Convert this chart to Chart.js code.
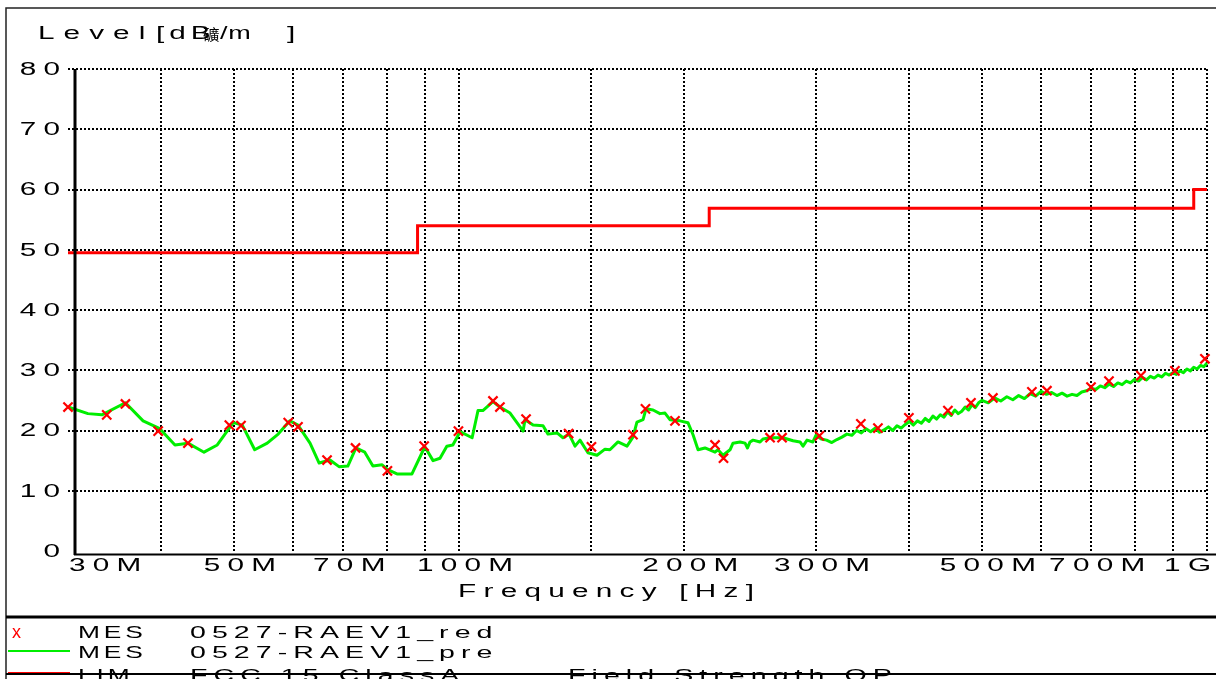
<!DOCTYPE html>
<html>
<head>
<meta charset="utf-8">
<script src="https://cdn.jsdelivr.net/npm/chart.js@4.4.1/dist/chart.umd.min.js"></script>
<style>
  html, body { margin: 0; padding: 0; background: #fff; overflow: hidden; }
  #wrap { width: 1216px; height: 679px; position: relative; }
</style>
</head>
<body>
<div id="wrap"><canvas id="c" width="1216" height="679"></canvas></div>
<script>
// Pre-scan trace (MHz, dBuV/m)
const preFreq = [
  30.0, 31.9, 33.3, 35.8, 37.8, 39.8, 41.7, 43.4, 45.6, 47.5,
  49.9, 51.3, 53.3, 55.4, 57.3, 59.4, 60.9, 63.2, 65.0, 67.2,
  69.1, 71.0, 72.8, 74.8, 76.7, 78.9, 80.3, 82.6, 86.5, 90.0,
  92.3, 94.3, 96.3, 98.1, 100.3, 104.1, 106.0, 107.6, 111.0, 113.4,
  117.0, 121.8, 122.5, 125.6, 129.5, 131.5, 135.2, 137.7, 140.3, 142.9,
  145.1, 148.7, 152.9, 156.7, 159.1, 163.1, 167.7, 170.8, 172.9, 176.2,
  177.8, 181.7, 185.6, 188.5, 191.4, 197.4, 202.3, 205.5, 208.7, 213.2,
  219.9, 221.9, 225.4, 230.3, 232.4, 237.5, 241.2, 243.0, 244.9, 247.2,
  252.6, 254.9, 260.5, 271.1, 279.6, 285.7, 288.3, 291.9, 297.2,
  300, 305, 310, 315, 320, 325, 330, 335, 340, 345,
  350, 355, 360, 365, 370, 375, 380, 385, 390, 395,
  400, 405, 410, 415, 420, 425, 430, 435, 440, 445,
  450, 455, 460, 465, 470, 475, 480, 485, 490, 495,
  500, 510, 520, 530, 540, 550, 560, 570, 580, 590,
  600, 610, 620, 630, 640, 650, 660, 670, 680, 690,
  700, 710, 720, 730, 740, 750, 760, 770, 780, 790,
  800, 810, 820, 830, 840, 850, 860, 870, 880, 890,
  900, 910, 920, 930, 940, 950, 960, 970, 980, 990, 1000
];
const preLevel = [
  23.9, 22.8, 22.6, 24.6, 21.6, 20.3, 17.6, 17.9, 16.4, 17.6,
  21.3, 20.9, 16.8, 17.9, 19.4, 21.6, 20.9, 17.9, 14.6, 15.1,
  14.0, 14.1, 17.1, 16.4, 14.1, 14.3, 13.5, 12.8, 12.8, 17.3,
  15.0, 15.4, 17.4, 17.6, 19.8, 18.8, 23.3, 23.3, 24.8, 23.9,
  22.9, 19.9, 21.8, 20.9, 20.8, 19.4, 19.6, 18.8, 19.4, 17.4,
  18.4, 16.3, 15.9, 16.9, 16.8, 18.1, 17.4, 18.9, 21.4, 21.8,
  23.6, 23.4, 22.8, 22.9, 21.8, 21.6, 21.3, 19.3, 16.8, 17.1,
  16.4, 16.8, 15.9, 16.8, 17.9, 18.1, 17.9, 17.1, 18.1, 18.4,
  18.1, 18.6, 18.8, 18.8, 18.3, 18.1, 17.4, 18.4, 18.1,
  19.2, 18.6, 18.4, 18.0, 18.5, 18.9, 19.4, 19.2, 20.0, 19.6,
  20.3, 19.8, 20.4, 19.7, 20.1, 20.6, 20.0, 20.8, 20.4, 21.0,
  21.5, 20.9, 21.6, 21.2, 22.0, 21.5, 22.4, 21.9, 22.6, 22.2,
  23.1, 22.5, 23.4, 22.8, 23.2, 23.9, 23.4, 24.3, 23.8, 24.6,
  25.0, 24.6, 25.4, 24.9, 25.6, 25.1, 25.8, 25.3, 26.1, 25.7,
  26.5, 26.0, 26.3, 25.8, 26.2, 25.7, 26.0, 25.8, 26.4, 26.6,
  27.0, 26.8, 27.4, 27.1, 27.7, 27.3, 27.9, 27.6, 28.2, 27.9,
  28.5, 28.2, 28.8, 28.4, 29.0, 28.7, 29.2, 28.9, 29.5, 29.2,
  29.6, 29.3, 29.9, 29.6, 30.2, 29.9, 30.5, 30.2, 30.8, 30.6, 31.2
];

// Final measurement points
const markFreq = [
  30.0, 33.8, 35.8, 39.6, 43.4, 49.3, 51.1, 59.1, 60.9, 66.6,
  72.7, 80.2, 89.8, 99.8, 111.0, 113.4, 122.9, 140.1, 150.3, 170.8,
  177.5, 194.4, 219.9, 225.7, 260.5, 270.3, 303.2, 344.5, 363.1, 399.4,
  450.4, 483.5, 517.3, 583.3, 610.9, 699.7, 739.5, 815.9, 905.9, 993.6
];
const markLevel = [
  23.9, 22.6, 24.4, 19.9, 17.9, 20.9, 20.8, 21.3, 20.6, 15.1,
  17.1, 13.3, 17.4, 19.9, 24.9, 23.9, 21.9, 19.5, 17.3, 19.3,
  23.6, 21.6, 17.6, 15.4, 18.8, 18.8, 19.1, 21.1, 20.4, 22.1,
  23.3, 24.6, 25.4, 26.4, 26.6, 27.2, 28.2, 29.1, 29.9, 31.9
];

// FCC 15 Class A limit: band start frequencies and levels
const limitFreq = [30, 88, 216, 960, 1000];
const limitLevel = [49.5, 54, 56.9, 60, 60];

// Axis tick labels
const xTickValues = [30, 50, 70, 100, 200, 300, 500, 700, 1000];
const xTickLabels = ['30M', '50M', '70M', '100M', '200M', '300M', '500M', '700M', '1G'];
const yTickValues = [0, 10, 20, 30, 40, 50, 60, 70, 80];

const FONT = '"Liberation Sans", Arial, sans-serif';

// Draws wide, letter-spaced text glyph by glyph
function spaced(ctx, text, x, y, o) {
  ctx.save();
  ctx.font = (o.size || 18) + 'px ' + (o.family || FONT);
  ctx.fillStyle = o.color || '#000';
  ctx.textBaseline = 'middle';
  ctx.textAlign = 'left';
  const chars = Array.from(text);
  const widths = chars.map(ch => ctx.measureText(ch).width);
  const sp = o.sp || 0, sx = o.sx || 1;
  const total = (widths.reduce((a, b) => a + b, 0) + sp * (chars.length - 1)) * sx;
  let start = x;
  if (o.align === 'center') start = x - total / 2;
  else if (o.align === 'right') start = x - total;
  ctx.translate(start, y);
  ctx.scale(sx, 1);
  let cx = 0;
  chars.forEach((ch, i) => { ctx.fillText(ch, cx, 0); cx += widths[i] + sp; });
  ctx.restore();
  return total;
}

const AXIS_TXT = { size: 18, sx: 1.65, sp: 4.4 };

const framePlugin = {
  id: 'frame',
  beforeDraw(chart) {
    const ctx = chart.ctx;
    ctx.save();
    ctx.fillStyle = '#fff';
    ctx.fillRect(0, 0, chart.width, chart.height);
    ctx.restore();
  },
  afterDraw(chart) {
    const ctx = chart.ctx;
    const xs = chart.scales.x, ys = chart.scales.y;
    const W = chart.width;
    ctx.save();

    // outer frame and separators
    ctx.strokeStyle = '#222';
    ctx.lineWidth = 1.5;
    ctx.beginPath();
    ctx.moveTo(6, 679); ctx.lineTo(6, 8); ctx.lineTo(W, 8);
    ctx.stroke();
    ctx.strokeStyle = '#000';
    ctx.lineWidth = 3;
    ctx.beginPath(); ctx.moveTo(6, 617); ctx.lineTo(W, 617); ctx.stroke();

    // axis lines
    const yBottom = ys.getPixelForValue(0);
    ctx.lineWidth = 3;
    ctx.beginPath();
    ctx.moveTo(75, ys.getPixelForValue(80));
    ctx.lineTo(75, yBottom + 4);
    ctx.stroke();
    ctx.lineWidth = 2;
    ctx.beginPath();
    ctx.moveTo(74, yBottom + 3.5);
    ctx.lineTo(W, yBottom + 3.5);
    ctx.stroke();
    ctx.restore();

    // y tick labels
    yTickValues.forEach(v => {
      spaced(ctx, String(v), 60, ys.getPixelForValue(v) + 1, Object.assign({ align: 'right' }, AXIS_TXT));
    });

    // x tick labels
    xTickValues.forEach((v, i) => {
      const px = xs.getPixelForValue(v);
      const lbl = xTickLabels[i];
      if (i === 0) spaced(ctx, lbl, px + 1, 566, Object.assign({ align: 'left' }, AXIS_TXT));
      else if (i === xTickValues.length - 1) spaced(ctx, lbl, px + 4, 566, Object.assign({ align: 'right' }, AXIS_TXT));
      else spaced(ctx, lbl, px + 6, 566, Object.assign({ align: 'center' }, AXIS_TXT));
    });

    // axis titles
    spaced(ctx, 'Frequency [Hz]', 606, 592, Object.assign({ align: 'center' }, AXIS_TXT));
    spaced(ctx, 'Level', 38, 34, { size: 18, sx: 1.65, sp: 5.5 });
    spaced(ctx, '[dB', 156, 34, { size: 18, sx: 1.65, sp: 3 });
    spaced(ctx, '礦', 203, 34, { size: 15, sx: 1.1, family: '"Noto Sans CJK SC", sans-serif' });
    spaced(ctx, '/m', 220, 34, { size: 18, sx: 1.5, sp: 0.5 });
    spaced(ctx, ']', 287, 34, { size: 18, sx: 1.65 });

    // legend
    const LEG = { size: 17, sx: 1.68, sp: 3.6 };
    ctx.save();
    ctx.fillStyle = '#ff0000';
    ctx.font = '18px ' + FONT;
    ctx.textBaseline = 'middle';
    ctx.fillText('x', 12, 633);
    ctx.lineWidth = 2;
    ctx.strokeStyle = '#00ee00';
    ctx.beginPath(); ctx.moveTo(8, 651); ctx.lineTo(70, 651); ctx.stroke();
    ctx.lineWidth = 3;
    ctx.strokeStyle = '#ff0000';
    ctx.beginPath(); ctx.moveTo(8, 673.5); ctx.lineTo(70, 673.5); ctx.stroke();
    ctx.restore();

    const LEG_MES = { size: 17, sx: 1.55, sp: 2.5 };
    spaced(ctx, 'MES', 78, 633, LEG_MES);
    spaced(ctx, '0527-RAEV1_red', 190, 633, LEG);
    spaced(ctx, 'MES', 78, 653, LEG_MES);
    spaced(ctx, '0527-RAEV1_pre', 190, 653, LEG);
    spaced(ctx, 'LIM', 78, 676, LEG_MES);
    spaced(ctx, 'FCC 15 ClassA', 190, 676, LEG);
    spaced(ctx, 'Field Strength QP', 568, 676, LEG);

    // bottom frame line over the clipped legend row
    ctx.save();
    ctx.strokeStyle = '#000';
    ctx.lineWidth = 2;
    ctx.beginPath(); ctx.moveTo(6, 674); ctx.lineTo(W, 674); ctx.stroke();
    ctx.restore();
  }
};

const toPts = (xa, ya) => xa.map((x, i) => ({ x: x, y: ya[i] }));

new Chart(document.getElementById('c'), {
  type: 'line',
  data: {
    datasets: [
      {
        label: 'MES 0527-RAEV1_red',
        data: toPts(markFreq, markLevel),
        showLine: false,
        pointStyle: 'crossRot',
        pointRadius: 6.5,
        pointBorderWidth: 2.2,
        pointBorderColor: '#ff0000',
        pointBackgroundColor: '#ff0000',
        borderColor: '#ff0000',
        clip: false
      },
      {
        label: 'MES 0527-RAEV1_pre',
        data: toPts(preFreq, preLevel),
        borderColor: '#00ee00',
        borderWidth: 3,
        pointRadius: 0,
        tension: 0,
        borderJoinStyle: 'round',
        clip: false
      },
      {
        label: 'LIM FCC 15 ClassA',
        data: toPts(limitFreq, limitLevel),
        stepped: 'before',
        borderColor: '#ff0000',
        borderWidth: 3,
        pointRadius: 0,
        clip: false
      }
    ]
  },
  options: {
    responsive: false,
    animation: false,
    devicePixelRatio: 1,
    layout: { padding: { left: 68, top: 69, right: 9, bottom: 128 } },
    plugins: { legend: { display: false }, tooltip: { enabled: false } },
    scales: {
      x: {
        type: 'logarithmic',
        min: 30,
        max: 1000,
        afterFit: s => { s.height = 0; },
        ticks: { display: false, autoSkip: false },
        grid: {
          color: c => (c.tick && c.tick.value > 30) ? '#000' : 'rgba(0,0,0,0)',
          lineWidth: 2,
          drawTicks: false
        },
        border: { display: false, dash: [2, 2] }
      },
      y: {
        min: 0,
        max: 80,
        afterFit: s => { s.width = 0; },
        ticks: { display: false, stepSize: 10 },
        grid: {
          color: c => (c.tick && c.tick.value > 0) ? '#000' : 'rgba(0,0,0,0)',
          lineWidth: 2,
          drawTicks: false
        },
        border: { display: false, dash: [2, 2] }
      }
    }
  },
  plugins: [framePlugin]
});
</script>
</body>
</html>
